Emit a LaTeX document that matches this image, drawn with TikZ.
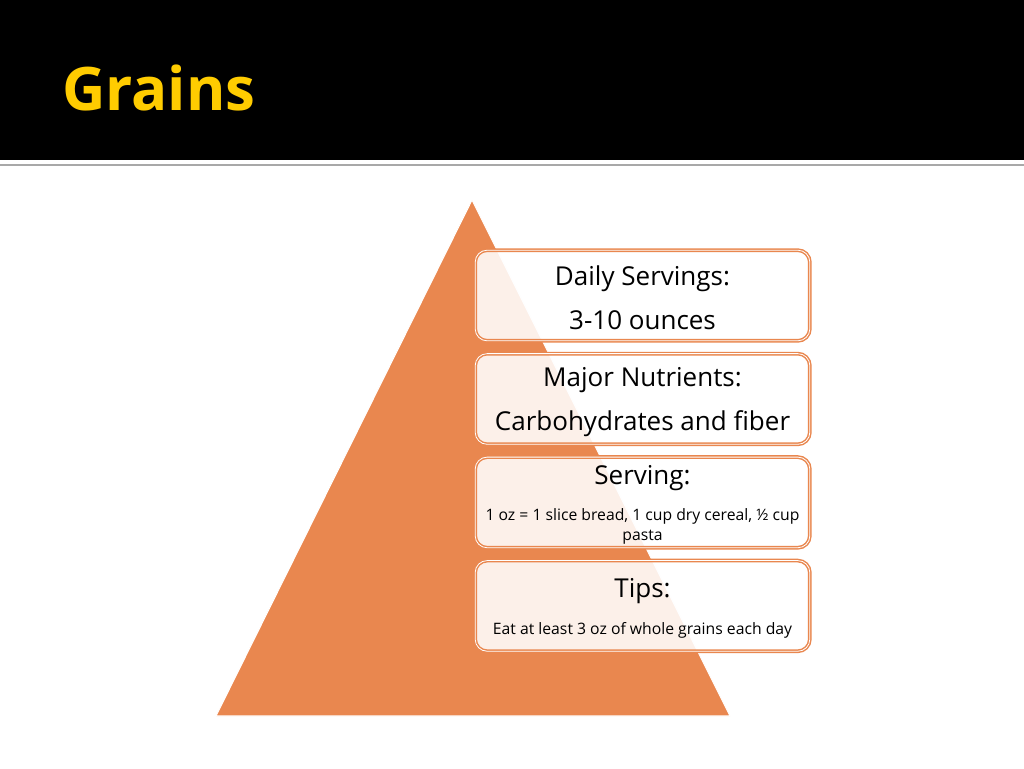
\documentclass[tikz,border=0pt]{standalone}
\usepackage{fontspec}
\setmainfont{Open Sans}
\usetikzlibrary{positioning}
\definecolor{pyramidorange}{HTML}{E9874F}
\definecolor{titleyellow}{HTML}{FFCC00}
\definecolor{rulegray}{HTML}{A8A8A8}
\tikzset{
  infobox/.style={draw=pyramidorange,double=white,double distance=0.6pt,
    line width=1.1pt,fill=white,fill opacity=0.88,draw opacity=1,
    rounded corners=9pt,minimum width=251pt,minimum height=68pt,inner sep=0pt},
  boxtext/.style={align=center,inner sep=0pt,yshift=-2pt,
    font=\fontsize{19.5}{22}\selectfont},
}
\newcommand{\detailtext}[1]{{\fontsize{11.8}{15}\selectfont #1}}

\begin{document}
\begin{tikzpicture}[x=0.75pt,y=-0.75pt]
  \useasboundingbox (0,0) rectangle (1024,768);
  % header band
  \fill[black] (0,0) rectangle (1024,160);
  \draw[rulegray,line width=2.2pt] (0,165) -- (1024,165);
  \node[anchor=base west,text=titleyellow,inner sep=0pt,
    font=\fontsize{45}{50}\selectfont\bfseries] (title) at (62,110) {Grains};
  % pyramid
  \coordinate (apex) at (472,200);
  \coordinate (baseL) at (216,716);
  \coordinate (baseR) at (730,716);
  \filldraw[fill=pyramidorange,draw=white,line width=0.8pt]
    (apex) -- (baseR) -- (baseL) -- cycle;
  % boxes
  \node[infobox] (daily) at (642.5,295.5) {};
  \node[infobox,below=8.5pt of daily] (nutrients) {};
  \node[infobox,below=8.5pt of nutrients] (serving) {};
  \node[infobox,below=8.5pt of serving] (tips) {};
  % box texts
  \node[boxtext] (dailytext) at (daily.center)
    {Daily Servings:\\[11pt]3-10 ounces};
  \node[boxtext] (nutrientstext) at (nutrients.center)
    {Major Nutrients:\\[11pt]Carbohydrates and fiber};
  \node[boxtext] (servingtext) at (serving.center)
    {Serving:\\[5pt]\detailtext{1 oz = 1 slice bread, 1 cup dry cereal, ½ cup}\\[-7pt]
     \detailtext{pasta}};
  \node[boxtext] (tipstext) at (tips.center)
    {Tips:\\[6pt]\detailtext{Eat at least 3 oz of whole grains each day}};
\end{tikzpicture}
\end{document}
